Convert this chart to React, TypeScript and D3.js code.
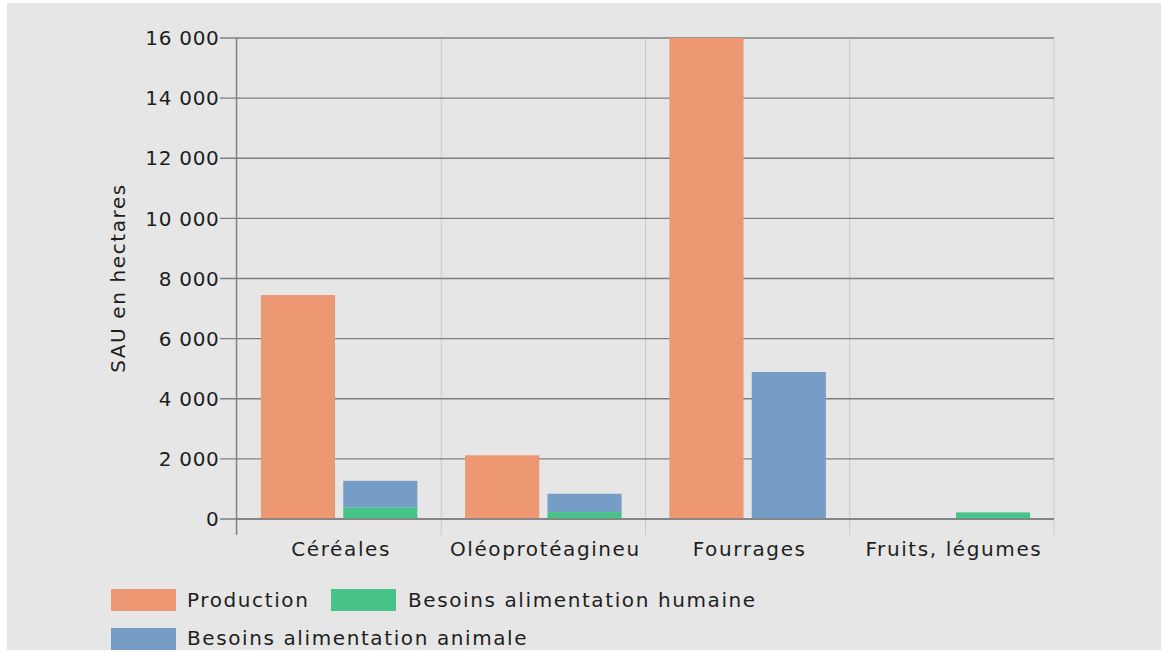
import React from "react";
import * as d3 from "d3";

const categories = ["Céréales", "Oléoprotéagineu", "Fourrages", "Fruits, légumes"];
const production = [7450, 2120, 16000, 0];
const besoinsHumaine = [390, 230, 0, 220];
const besoinsAnimale = [880, 610, 4890, 0];
const yTicks = [0, 2000, 4000, 6000, 8000, 10000, 12000, 14000, 16000];
const groups = ["production", "besoins"];

const COLORS = {
  production: "#ee9873",
  humaine: "#47c38a",
  animale: "#769dc5",
};

const W = 1163;
const H = 652;
const FONT = "'DejaVu Sans', sans-serif";
const FS = 20;
const LS = 1.6;

export default function App() {
  const x = d3.scaleBand<string>().domain(categories).range([237, 1054]).padding(0);
  const xi = d3
    .scaleBand<string>()
    .domain(groups)
    .range([0, x.bandwidth()])
    .paddingInner(0.1)
    .paddingOuter(0.29);
  const y = d3.scaleLinear().domain([0, 16000]).range([519, 38]);
  const fmt = (v: number) => d3.format(",")(v).replace(/,/g, " ");

  const boundaries = categories.map((c) => x(c) as number).concat([1054]);

  return (
    <svg
      width={W}
      height={H}
      style={{ position: "absolute", left: 0, top: 0, fontFamily: FONT }}
    >
      <rect x={0} y={0} width={W} height={H} fill="#ffffff" />
      <rect x={7} y={3} width={1154} height={647} fill="#e6e6e6" />

      {boundaries.map((bx, i) => (
        <line key={"v" + i} x1={bx} x2={bx} y1={38} y2={535} stroke="#c9c9c9" strokeWidth={1} />
      ))}

      {yTicks.map((t) => (
        <g key={"h" + t}>
          <line x1={220} x2={1054} y1={y(t)} y2={y(t)} stroke="#7f7f7f" strokeWidth={1.3} />
          <text x={219.5} y={y(t)} dy="0.36em" textAnchor="end" fontSize={FS} fill="#1e1e1e" letterSpacing={0.7}>
            {fmt(t)}
          </text>
        </g>
      ))}

      <line x1={236.5} x2={236.5} y1={38} y2={535} stroke="#7f7f7f" strokeWidth={1.3} />

      {categories.map((c, i) => {
        const x0 = x(c) as number;
        const px = x0 + (xi("production") as number);
        const bx = x0 + (xi("besoins") as number);
        const bw = xi.bandwidth();
        return (
          <g key={c}>
            {production[i] > 0 && (
              <rect x={px} y={y(production[i])} width={bw} height={y(0) - y(production[i])} fill={COLORS.production} />
            )}
            {besoinsHumaine[i] > 0 && (
              <rect x={bx} y={y(besoinsHumaine[i])} width={bw} height={y(0) - y(besoinsHumaine[i])} fill={COLORS.humaine} />
            )}
            {besoinsAnimale[i] > 0 && (
              <rect
                x={bx}
                y={y(besoinsHumaine[i] + besoinsAnimale[i])}
                width={bw}
                height={y(besoinsHumaine[i]) - y(besoinsHumaine[i] + besoinsAnimale[i])}
                fill={COLORS.animale}
              />
            )}
          </g>
        );
      })}

      <line x1={236.5} x2={1054} y1={y(0)} y2={y(0)} stroke="#7f7f7f" strokeWidth={1.3} />

      {categories.map((c) => (
        <text
          key={"l" + c}
          x={(x(c) as number) + x.bandwidth() / 2 + 2}
          y={556}
          textAnchor="middle"
          fontSize={FS}
          fill="#1e1e1e"
          letterSpacing={LS}
        >
          {c}
        </text>
      ))}

      <text
        transform={`translate(125, 278) rotate(-90)`}
        textAnchor="middle"
        fontSize={FS}
        fill="#1e1e1e"
        letterSpacing={LS}
      >
        SAU en hectares
      </text>

      <rect x={111} y={589} width={65} height={22} fill={COLORS.production} />
      <text x={187} y={607} fontSize={FS} fill="#1e1e1e" letterSpacing={LS}>
        Production
      </text>
      <rect x={331} y={589} width={65} height={22} fill={COLORS.humaine} />
      <text x={408} y={607} fontSize={FS} fill="#1e1e1e" letterSpacing={LS}>
        Besoins alimentation humaine
      </text>
      <rect x={111} y={628} width={65} height={22} fill={COLORS.animale} />
      <text x={187} y={645} fontSize={FS} fill="#1e1e1e" letterSpacing={LS}>
        Besoins alimentation animale
      </text>
    </svg>
  );
}
